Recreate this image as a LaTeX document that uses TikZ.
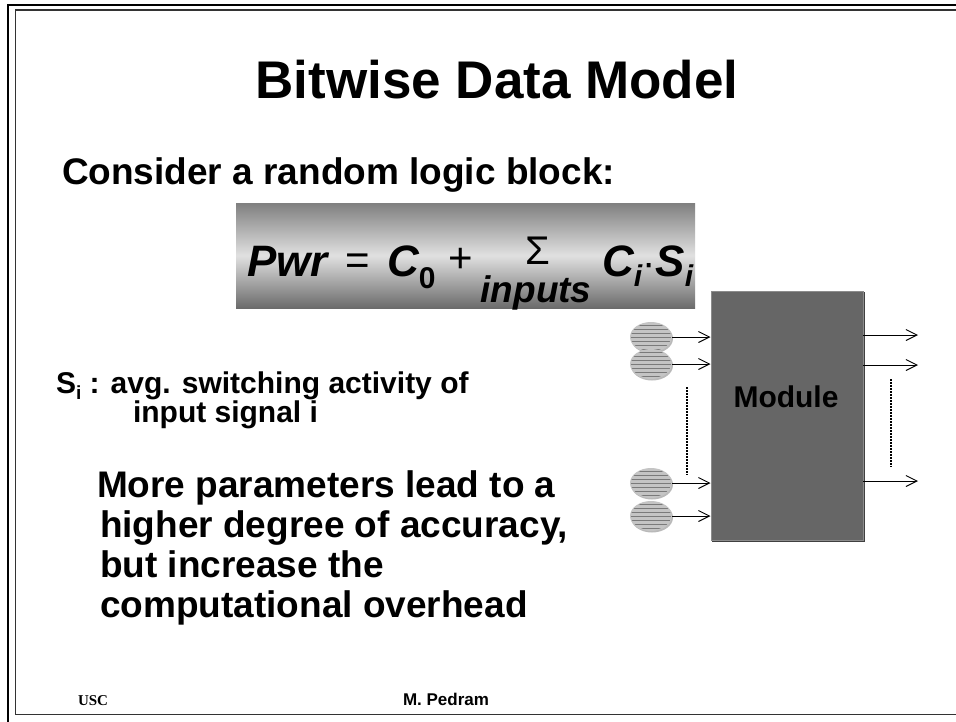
\documentclass[tikz,border=0pt]{standalone}
\usepackage{fontspec}
\setmainfont{Liberation Sans}
\newfontfamily\timesfont{Liberation Serif}
\usetikzlibrary{arrows.meta,shapes.geometric}

\definecolor{modfill}{HTML}{666666}
\definecolor{bubble}{HTML}{C4C4C4}
\definecolor{stripe}{HTML}{7A7A7A}

\tikzset{
  txt/.style={inner sep=0pt, outer sep=0pt, anchor=base west},
  sig/.style={draw=none, ellipse, minimum width=42pt, minimum height=30pt, inner sep=0pt},
  wire/.style={line width=1pt, -{Straight Barb[length=11pt,width=11pt,line width=1pt]}},
  dots/.style={line width=2pt, dash pattern=on 2pt off 1pt},
  fsz/.style={font=\fontsize{#1}{#1}\selectfont\bfseries},
  fit/.style={font=\fontsize{#1}{#1}\selectfont\bfseries\itshape},
  frm/.style={font=\fontsize{#1}{#1}\selectfont}
}

% one striped input bubble
\newcommand\bubbleat[2]{%
  \fill[gray!55] ([xshift=1pt,yshift=-1.5pt]#1) ellipse (21pt and 15pt);
  \node[sig, fill=bubble] (#2) at (#1) {};
  \begin{scope}
    \clip (#1) ellipse (20pt and 14pt);
    \foreach \k in {-12,-8,...,12}
      \draw[stripe, line width=0.8pt] ([yshift=\k pt]#1) ++(-22pt,0) -- ++(44pt,0);
  \end{scope}
}

\begin{document}
\begin{tikzpicture}[x=1pt,y=-1pt]
\useasboundingbox (0,0) rectangle (956,721);
\fill[white] (0,0) rectangle (956,721);

% slide frame
\draw[line width=2.7pt] (8,5) rectangle (975,735);
\draw[line width=1.6pt, black!80] (15.5,10.2) rectangle (970,714.5);

% title and heading
\node[txt, fsz=53, anchor=base] (title) at (497,98) {Bitwise Data Model};
\node[txt, fsz=37] (intro) at (62,184) {Consider a random logic block:};

% formula panel
\shade[top color=black!50, bottom color=black!58, middle color=black!12]
  (236,203) rectangle (695,308);
\node[txt, fit=44] (pwr) at (247,276) {Pwr};
\node[txt, frm=42] (eq) at (345,274) {=};
\node[txt, fit=44] (c0) at (387,276) {C};
\node[txt, fsz=30] (c0s) at (c0.base east) [yshift=-12pt] {0};
\node[txt, frm=42] (plus) at (448,272) {+};
\node[txt, frm=40, anchor=base] (sum) at (538,264) {Σ};
\node[txt, fit=37, anchor=base] (inp) at (536,302) {inputs};
\node[txt, fit=44] (ci) at (602,276) {C};
\node[txt, fit=30] (cis) at (ci.base east) [yshift=-10pt] {i};
\node[txt, frm=40] (dot) at (cis.base east) [yshift=10pt] {·};
\node[txt, fit=44] (si) at (dot.base east) {S};
\node[txt, fit=30] (sis) at (si.base east) [yshift=-10pt] {i};

% definitions
\node[txt, fsz=30] (sdef) at (56,393) {S\raisebox{-6pt}{\fontsize{19}{19}\selectfont i} : avg. switching activity of};
\node[txt, fsz=30] (sdef2) at (133,422) {input signal i};

\node[txt, fsz=37] (m1) at (97,497) {More parameters lead to a};
\node[txt, fsz=37] (m2) at (100,537) {higher degree of accuracy,};
\node[txt, fsz=37] (m3) at (100,577) {but increase the};
\node[txt, fsz=37] (m4) at (100,617) {computational overhead};

% module block
\fill[black!75] (712,292) rectangle (864.5,541.5);
\node[draw=black!45, line width=0.8pt, fill=modfill, minimum width=152pt, minimum height=249pt,
      inner sep=0pt, anchor=north west] (mod) at (710.5,291) {};
\node[fsz=30, inner sep=0pt] (modlbl) at (786,397) {Module};

% input bubbles
\bubbleat{651,337}{in1}
\bubbleat{651,364}{in2}
\bubbleat{651,483}{in3}
\bubbleat{651,516}{in4}

\foreach \n in {in1,in2,in3,in4}
  \draw[wire] (\n.east) -- (\n.east -| mod.west);

% outputs
\coordinate (o1) at (918,335);
\coordinate (o2) at (918,365);
\coordinate (o3) at (918,481);
\foreach \n in {o1,o2,o3}
  \draw[wire] (\n -| mod.east) -- (\n);

% ellipsis marks
\coordinate (da) at (687,387);
\coordinate (db) at (687,475);
\coordinate (dc) at (890.5,379);
\coordinate (dd) at (890.5,467);
\draw[dots] (da) -- (db);
\draw[dots] (dc) -- (dd);

% footer
\node[txt, font=\timesfont\bfseries\fontsize{15}{15}\selectfont] (usc) at (78,705) {USC};
\node[txt, fsz=17] (auth) at (403,705) {M. Pedram};
\end{tikzpicture}
\end{document}
